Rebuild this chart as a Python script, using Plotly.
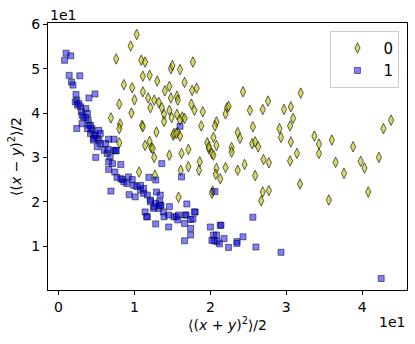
import plotly.graph_objects as go

# values in units of 1e1 (as shown by the axis offset labels)
x0 = [1.03, 0.95, 0.76, 1.09, 1.14, 1.48, 1.50, 1.60, 1.77, 1.11, 1.20, 1.30, 0.86, 0.97,
      1.66, 1.46, 1.40, 1.76, 1.82, 1.11, 1.18, 1.00, 1.26, 1.48, 1.56, 1.57, 0.80, 1.32,
      1.75, 1.21, 1.36, 1.46, 1.79, 0.96, 1.39, 1.56, 1.90, 2.22, 2.24, 2.20, 0.69, 1.49,
      1.63, 1.66, 1.60, 1.39, 2.08, 1.10, 0.81, 0.80, 1.88, 2.06, 1.29, 1.51, 1.57, 1.60,
      2.04, 1.96, 1.14, 1.22, 2.08, 2.43, 3.19, 2.76, 2.52, 2.69, 2.97, 3.06, 3.09, 3.05,
      2.56, 2.91, 2.93, 4.38, 4.28, 2.36, 2.39, 2.55, 2.59, 2.63, 3.06, 3.37, 3.43, 3.60,
      3.88, 2.28, 3.43, 2.28, 3.14, 2.20, 2.36, 2.45, 2.70, 2.77, 2.59, 3.05, 3.65, 3.76,
      3.98, 4.03, 4.22, 3.18, 2.69, 2.77, 2.67, 3.56, 4.08, 2.13, 0.80, 1.20, 1.24, 1.26,
      1.46, 1.62, 1.71, 1.98, 2.02, 2.04, 1.86, 1.85, 1.06, 1.27, 1.61, 1.71, 2.08, 2.07,
      1.58, 2.03, 1.11, 1.52, 1.55, 1.98, 2.02]
y0 = [5.77, 5.51, 5.22, 5.19, 5.15, 5.00, 5.07, 4.98, 5.15, 4.83, 4.85, 4.72, 4.64, 4.57,
      4.69, 4.60, 4.50, 4.51, 4.56, 4.48, 4.34, 4.30, 4.29, 4.34, 4.38, 4.29, 4.20, 4.24,
      4.20, 4.12, 4.12, 4.06, 4.06, 4.00, 3.97, 3.97, 4.03, 4.12, 4.15, 3.98, 3.89, 3.90,
      3.91, 3.88, 3.84, 3.81, 3.80, 3.72, 3.75, 3.65, 3.71, 3.71, 3.57, 3.50, 3.57, 3.48,
      3.45, 3.33, 3.27, 3.22, 3.27, 4.48, 4.45, 4.27, 4.06, 4.08, 4.08, 4.14, 3.88, 3.71,
      3.69, 3.65, 3.45, 3.84, 3.65, 3.56, 3.43, 3.31, 3.35, 3.24, 3.35, 3.48, 3.30, 3.39,
      3.24, 3.22, 3.09, 3.12, 3.09, 2.77, 2.71, 2.84, 2.95, 2.88, 2.59, 2.92, 2.89, 2.64,
      2.91, 2.76, 3.00, 2.40, 2.22, 2.25, 2.02, 2.04, 2.22, 2.52, 3.33, 3.36, 3.20, 3.00,
      3.05, 3.09, 3.18, 3.20, 3.09, 3.05, 2.90, 2.71, 2.67, 2.60, 2.71, 2.79, 2.75, 2.62,
      2.10, 2.24, 3.69, 3.54, 3.54, 3.24, 2.19]

x1 = [0.10, 0.16, 0.08, 0.14, 0.28, 0.17, 0.19, 0.23, 0.48, 0.40, 0.24, 0.25, 0.22, 0.24,
      0.30, 0.36, 0.38, 0.33, 0.39, 0.40, 0.44, 0.42, 0.48, 0.51, 0.46, 0.53, 0.29, 0.27,
      0.31, 0.36, 0.31, 0.38, 0.44, 0.48, 0.53, 0.55, 0.51, 0.60, 0.64, 0.68, 0.66, 0.71,
      0.74, 0.77, 0.84, 0.86, 0.92, 0.97, 0.99, 1.03, 1.08, 1.12, 1.17, 1.21, 1.28, 1.34,
      1.32, 1.38, 1.45, 1.52, 1.14, 1.25, 1.17, 1.46, 1.67, 0.42, 0.55, 0.46, 0.62, 0.73,
      0.66, 0.73, 0.65, 0.75, 0.49, 0.82, 0.66, 0.69, 0.93, 1.01, 1.19, 1.28, 1.29, 1.34,
      0.82, 0.90, 1.08, 1.12, 1.60, 1.36, 1.62, 2.06, 0.76, 1.69, 1.80, 1.16, 1.28, 1.45,
      1.55, 1.58, 1.74, 1.74, 1.74, 1.66, 2.00, 2.13, 2.04, 2.02, 2.09, 2.18, 2.24, 2.35,
      2.56, 2.14, 2.35, 2.43, 2.60, 2.93, 4.25, 1.21, 1.26, 1.33, 1.35, 1.39, 1.57, 1.66,
      1.79, 1.68, 1.77, 2.08, 2.05, 2.12]
y1 = [5.35, 5.29, 5.19, 4.85, 4.84, 4.70, 4.63, 4.42, 4.43, 4.34, 4.29, 4.18, 4.25, 3.65,
      4.03, 4.10, 3.99, 3.91, 3.84, 3.73, 3.65, 3.54, 3.50, 3.43, 3.43, 3.61, 4.14, 4.21,
      3.95, 3.90, 3.76, 3.65, 3.61, 3.50, 3.39, 3.31, 3.24, 3.16, 3.09, 3.01, 2.90, 2.86,
      2.67, 2.55, 2.50, 2.45, 2.56, 2.50, 2.37, 2.34, 2.26, 2.19, 2.15, 2.04, 1.96, 1.92,
      1.85, 1.77, 1.70, 1.66, 1.77, 1.85, 1.66, 1.89, 1.70, 3.72, 3.54, 3.39, 3.31, 3.41,
      3.41, 3.16, 3.18, 3.15, 3.00, 2.84, 2.73, 2.24, 2.16, 2.11, 2.55, 2.49, 2.22, 2.15,
      2.52, 2.41, 2.37, 2.30, 3.70, 2.86, 2.56, 2.23, 3.15, 1.95, 1.77, 1.66, 1.50, 1.43,
      1.66, 1.70, 1.60, 1.40, 1.25, 1.12, 1.43, 1.47, 1.25, 1.13, 1.10, 1.17, 0.97, 1.10,
      1.65, 1.47, 1.06, 1.21, 0.98, 0.86, 0.27, 2.00, 1.89, 2.00, 1.92, 1.66, 1.59, 1.51,
      1.77, 1.70, 1.61, 1.25, 1.12, 1.05]

x_ticks = [0, 1, 2, 3, 4]
y_ticks = [1, 2, 3, 4, 5, 6]

FONT = "DejaVu Sans"

fig = go.Figure()
fig.add_trace(go.Scatter(
    x=x0, y=y0, mode="markers", name="0",
    marker=dict(symbol="diamond-tall", size=7.5, color="rgba(191,191,0,0.6)",
                line=dict(color="rgba(0,0,0,0.6)", width=1)),
))
fig.add_trace(go.Scatter(
    x=x1, y=y1, mode="markers", name="1",
    marker=dict(symbol="square", size=6, color="rgba(0,0,255,0.5)",
                line=dict(color="rgba(0,0,0,0.5)", width=1)),
))

axis_common = dict(
    showgrid=False, zeroline=False, showline=True, linecolor="black", linewidth=1,
    mirror=True, ticks="outside", ticklen=4, tickcolor="black", automargin=False,
    tickfont=dict(family=FONT, size=14, color="black"),
)

fig.update_layout(
    width=415, height=344,
    margin=dict(l=48, r=8, t=23, b=54),
    plot_bgcolor="white", paper_bgcolor="white",
    font=dict(family=FONT, size=14, color="black"),
    xaxis=dict(axis_common, range=[-0.139, 4.59], tickvals=x_ticks,
               title=dict(text="⟨(<i>x</i> + <i>y</i>)<sup>2</sup>⟩/2", standoff=5,
                          font=dict(size=14))),
    yaxis=dict(axis_common, range=[0.01, 6.03], tickvals=y_ticks,
               title=dict(text="⟨(<i>x</i> − <i>y</i>)<sup>2</sup>⟩/2", standoff=6,
                          font=dict(size=14))),
    legend=dict(x=0.979, y=0.971, xanchor="right", yanchor="top",
                bgcolor="rgba(255,255,255,0.8)", bordercolor="#cccccc", borderwidth=1,
                font=dict(size=15), itemwidth=42, tracegroupgap=6),
    showlegend=True,
)

fig.add_annotation(text="1e1", x=0, y=1, xref="paper", yref="paper",
                   xanchor="left", yanchor="bottom", showarrow=False,
                   font=dict(size=14), yshift=-2)
fig.add_annotation(text="1e1", x=1, y=0, xref="paper", yref="paper",
                   xanchor="right", yanchor="top", showarrow=False,
                   font=dict(size=14), yshift=-22)

# drop the browser's default page margin so the figure sits at the window's corner
fig.write_html("out.html", config={"displayModeBar": False},
               post_script="document.body.style.margin = '0';")
